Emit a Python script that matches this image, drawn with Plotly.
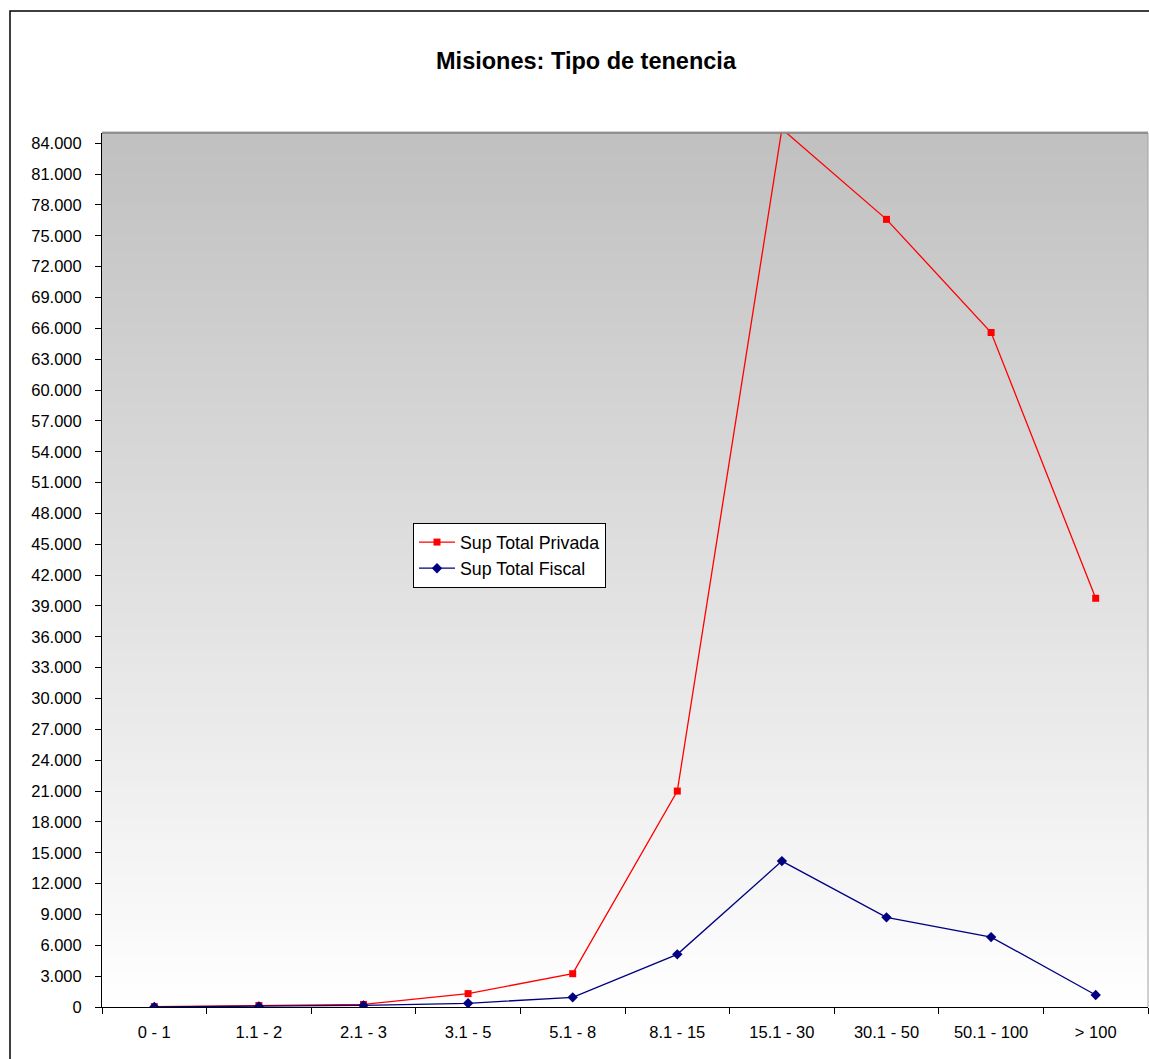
import plotly.graph_objects as go

categories = ["0 - 1", "1.1 - 2", "2.1 - 3", "3.1 - 5", "5.1 - 8", "8.1 - 15",
              "15.1 - 30", "30.1 - 50", "50.1 - 100", "> 100"]
sup_total_privada = [40, 150, 250, 1300, 3240, 21000, 85400, 76600, 65600, 39750]
sup_total_fiscal = [10, 50, 150, 360, 940, 5120, 14190, 8720, 6800, 1170]

W, H = 1149, 1059
L, R, T, B = 102, 1, 133, 52
pw, ph = W - L - R, H - T - B

FONT = "Liberation Sans, Arial, sans-serif"

fig = go.Figure()

fig.add_trace(go.Scatter(
    x=categories, y=sup_total_privada, name="Sup Total Privada",
    mode="lines+markers",
    line=dict(color="#ff0000", width=1.3),
    marker=dict(symbol="square", size=7, color="#ff0000"),
))
fig.add_trace(go.Scatter(
    x=categories, y=sup_total_fiscal, name="Sup Total Fiscal",
    mode="lines+markers",
    line=dict(color="#000080", width=1.3),
    marker=dict(symbol="diamond", size=8, color="#000080"),
))

# gradient background (gray at top to white at bottom)
shapes = []
n = 120
for i in range(n):
    f0 = i / n
    f1 = (i + 1) / n
    mid = (f0 + f1) / 2
    v = int(round(255 - (255 - 192) * mid))
    shapes.append(dict(type="rect", xref="x domain", yref="y domain",
                       x0=0, x1=1, y0=f0, y1=f1 + 0.002, layer="below",
                       line=dict(width=0), fillcolor=f"rgb({v},{v},{v})"))
# plot-area top border
shapes.append(dict(type="line", xref="x domain", yref="y domain",
                   x0=0, x1=1, y0=1, y1=1, line=dict(color="#808080", width=1.5)))
shapes.append(dict(type="line", xref="x domain", yref="y domain",
                   x0=1, x1=1, y0=0, y1=1, line=dict(color="#a0a0a0", width=1)))
# outer chart border
shapes.append(dict(type="rect", xref="paper", yref="paper",
                   x0=(10 - L) / pw, x1=(W + 20 - L) / pw,
                   y0=-0.2, y1=(H - B - 11) / ph,
                   line=dict(color="#000000", width=1.5), layer="above"))

fig.update_layout(
    width=W, height=H,
    margin=dict(l=L, r=R, t=T, b=B),
    paper_bgcolor="white",
    plot_bgcolor="white",
    separators=",.",
    font=dict(family=FONT, size=16.5, color="black"),
    title=dict(text="<b>Misiones: Tipo de tenencia</b>", x=586 / W, xanchor="center",
               y=1 - 61 / H, yanchor="middle", font=dict(size=23.5, family=FONT)),
    showlegend=True,
    legend=dict(x=(413 - L) / pw, y=(H - B - 523) / ph, xanchor="left", yanchor="top",
                bgcolor="white", bordercolor="black", borderwidth=1,
                font=dict(size=17.8, family=FONT), tracegroupgap=0,
                itemwidth=36),
    shapes=shapes,
    xaxis=dict(type="category", range=[-0.5, 9.5], tickson="boundaries",
               ticks="outside", ticklen=6, tickcolor="black",
               showline=True, linecolor="black", linewidth=1,
               showgrid=False, zeroline=False, ticklabelstandoff=10,
               tickfont=dict(size=16.5, family=FONT)),
    yaxis=dict(range=[0, 85000], dtick=3000, tick0=0, tickformat=",d",
               ticks="outside", ticklen=6, tickcolor="black",
               showline=True, linecolor="black", linewidth=1,
               showgrid=False, zeroline=False, ticklabelstandoff=10,
               tickfont=dict(size=16.5, family=FONT)),
)

fig.write_html("out.html", config={"displayModeBar": False},
               post_script="document.body.style.margin='0px';")
